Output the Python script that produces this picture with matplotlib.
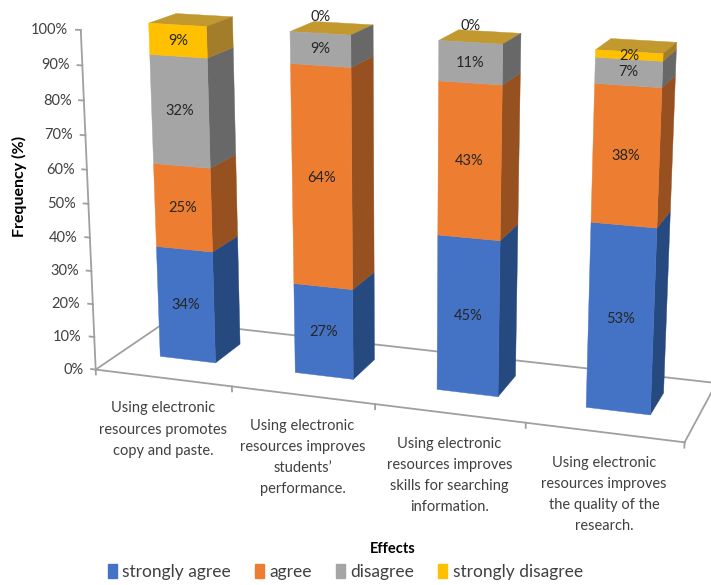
import numpy as np
import matplotlib.pyplot as plt
from matplotlib.patches import Patch
from mpl_toolkits.mplot3d import proj3d
from mpl_toolkits.mplot3d.art3d import Poly3DCollection

categories = ["Using electronic\nresources promotes\ncopy and paste.",
              "Using electronic\nresources improves\nstudents\u2019\nperformance.",
              "Using electronic\nresources improves\nskills for searching\ninformation.",
              "Using electronic\nresources improves\nthe quality of the\nresearch."]
series = ["strongly agree", "agree", "disagree", "strongly disagree"]
strongly_agree = [34, 27, 45, 53]
agree = [25, 64, 43, 38]
disagree = [32, 9, 11, 7]
strongly_disagree = [9, 0, 0, 2]
yticks = np.arange(0, 101, 10)

front_cols = ["#4472C4", "#ED7D31", "#A5A5A5", "#FFC000"]
side_cols = ["#264A80", "#97501F", "#686868", "#A37D2A"]
top_col = "#C1992F"
txt_col = "#404040"
line_col = "#A0A0A0"

# 3d layout (world units: 1 = category spacing)
bar_w = 0.415
bar_d = 0.415
floor_d = 1.1
H = 2.31
y0 = 0.385
scale = 0.355     # box units per world unit
cam_dist = 12.5   # world units

plt.rcParams['font.family'] = ['Lato', 'DejaVu Sans']

fig = plt.figure(figsize=(7.11, 5.85), dpi=100)
S = 800
cx, cy = 403, 585 - 209
aspect = np.array([4, floor_d, H])
ax = fig.add_axes([(cx - 0.5135 * S) / 711, (cy - 0.5135 * S) / 585, S / 711, S / 585],
                  projection='3d', proj_type='persp',
                  focal_length=cam_dist * scale / 10, computed_zorder=False)
ax.view_init(elev=15, azim=-71)
ax.set_box_aspect(aspect, zoom=scale * np.linalg.norm(aspect) / (1.8294640721620434 * 25 / 24))
ax.set_xlim(0, 4)
ax.set_ylim(0, floor_d)
ax.set_zlim(0, 100)
ax.set_axis_off()

# floor + axes lines
kw = dict(color=line_col, lw=1.3, zorder=1)
ax.plot([0, 4], [0, 0], [0, 0], **kw)
ax.plot([4, 4], [0, floor_d], [0, 0], **kw)
ax.plot([0, 4], [floor_d, floor_d], [0, 0], **kw)
ax.plot([0, 0], [0, floor_d], [0, 0], **kw)
ax.plot([0, 0], [0, 0], [0, 100], **kw)
for v in yticks:
    ax.plot([-0.035, 0], [0, 0], [v, v], **kw)
for k in range(5):
    ax.plot([k, k], [0, 0], [0, -1.5], **kw)

data = np.array([strongly_agree, agree, disagree, strongly_disagree], dtype=float)
pct = data / data.sum(axis=0) * 100

polys, cols = [], []
labels = []   # (x, y, z, text, offset)
for i in range(len(categories)):
    x0 = i + 0.5 - bar_w / 2
    x1 = x0 + bar_w
    ya, yb = y0, y0 + bar_d
    lo = 0
    for s in range(len(series)):
        hi = lo + pct[s, i]
        if hi > lo:
            polys.append([(x0, ya, lo), (x1, ya, lo), (x1, ya, hi), (x0, ya, hi)])
            cols.append(front_cols[s])
            polys.append([(x1, ya, lo), (x1, yb, lo), (x1, yb, hi), (x1, ya, hi)])
            cols.append(side_cols[s])
        if data[s, i] > 0:
            labels.append((i + 0.5, ya, (lo + hi) / 2, f"{int(data[s, i])}%", 0))
        else:
            labels.append((i + 0.5, ya, hi, f"{int(data[s, i])}%", 12))
        lo = hi
    polys.append([(x0, ya, lo), (x1, ya, lo), (x1, yb, lo), (x0, yb, lo)])
    cols.append(top_col)

pc = Poly3DCollection(polys, facecolors=cols, edgecolors=cols, linewidths=0.3, zorder=2)
ax.add_collection3d(pc)

# project 3d anchor points to place the texts in 2d
fig.canvas.draw()
M = ax.get_proj()


def p2d(x, y, z):
    px, py, _ = proj3d.proj_transform(x, y, z, M)
    return px, py


for x, y, z, t, dy in labels:
    ax.annotate(t, p2d(x, y, z), xytext=(0, dy), textcoords='offset points',
                ha='center', va='center', fontsize=10.5, color='#262626',
                annotation_clip=False, zorder=3)
for v in yticks:
    ax.annotate(f"{v}%", p2d(0, 0, v), xytext=(-9, 0), textcoords='offset points',
                ha='right', va='center', fontsize=10.5, color=txt_col,
                annotation_clip=False)
for i, c in enumerate(categories):
    ax.annotate(c, p2d(i + 0.5, 0, 0), xytext=(0, -17), textcoords='offset points',
                ha='center', va='top', fontsize=10.5, color=txt_col,
                linespacing=1.65, annotation_clip=False)

fig.text(0.028, 0.682, "Frequency (%)", rotation=90, ha='center', va='center',
         fontsize=11.5, fontweight='bold', color='black')
fig.text(0.553, 0.062, "Effects", ha='center', va='center', fontsize=10.5,
         fontweight='bold', color='black')
handles = [Patch(color=c) for c in front_cols]
fig.legend(handles, series, loc='center', bbox_to_anchor=(0.4855, 0.022), ncol=4,
           frameon=False, handlelength=0.52, handleheight=0.9, handletextpad=0.3,
           columnspacing=1.4, fontsize=12.5, labelcolor=txt_col)

fig.savefig("out.png", dpi=100)
